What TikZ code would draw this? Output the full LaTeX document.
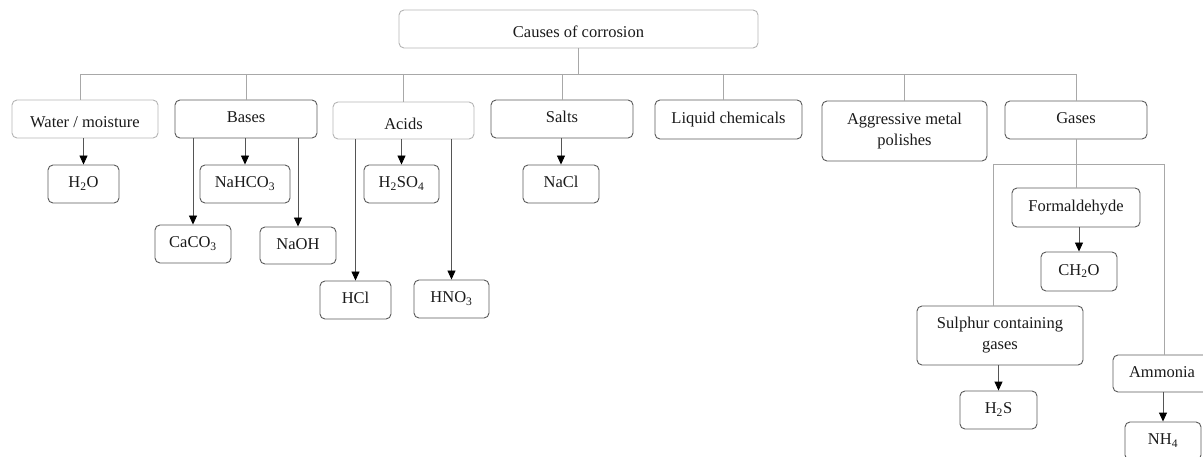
\documentclass[tikz,border=0pt]{standalone}
\usepackage{fontspec}
\setmainfont{Liberation Serif}
\usetikzlibrary{arrows.meta}
\definecolor{darkb}{HTML}{5A5A5A}
\definecolor{lightb}{HTML}{B4B4B4}
\definecolor{busc}{HTML}{A8A8A8}
\definecolor{arrc}{HTML}{555555}
\definecolor{txt}{HTML}{1A1A1A}
\tikzset{
  boxbase/.style={draw=darkb, line width=0.9pt, rounded corners=5pt, inner sep=0pt,
    text=txt, align=center, font=\fontsize{16.5}{21}\selectfont},
  box/.style={boxbase, text height=11pt, text depth=3.5pt},
  lbox/.style={boxbase, draw=lightb, text height=21pt, text depth=3.5pt},
  bus/.style={draw=busc, line width=0.9pt},
  arr/.style={draw=arrc, line width=0.9pt, -{Triangle[length=9pt,width=8pt,color=black]}},
}
\begin{document}
\begin{tikzpicture}[x=1pt,y=-1pt]
\useasboundingbox (0,0) rectangle (1203,457);
% level 0
\node[lbox, minimum width=359, minimum height=38] (causes) at (578.5,29) {Causes of corrosion};
% level 1
\node[lbox, minimum width=146, minimum height=38] (water) at (85,119) {Water / moisture};
\node[box, minimum width=142, minimum height=38] (bases) at (246,119) {Bases};
\node[lbox, minimum width=141, minimum height=37] (acids) at (403.5,120.5) {Acids};
\node[box, minimum width=142, minimum height=38] (salts) at (562,119) {Salts};
\node[box, minimum width=147, minimum height=39] (liquid) at (728.5,119.5) {Liquid chemicals};
\node[boxbase, minimum width=165, minimum height=60] (aggr) at (904.5,131) {Aggressive metal\\polishes};
\node[box, minimum width=142, minimum height=38] (gases) at (1076,120) {Gases};
% level 2
\node[box, minimum width=71, minimum height=38] (h2o) at (83.5,184) {H\textsubscript{2}O};
\node[box, minimum width=90, minimum height=38] (nahco3) at (245,184) {NaHCO\textsubscript{3}};
\node[box, minimum width=76, minimum height=38] (caco3) at (193,244) {CaCO\textsubscript{3}};
\node[box, minimum width=76, minimum height=37] (naoh) at (298,245.5) {NaOH};
\node[box, minimum width=75, minimum height=38] (h2so4) at (401.5,184) {H\textsubscript{2}SO\textsubscript{4}};
\node[box, minimum width=71, minimum height=38] (hcl) at (355.5,300) {HCl};
\node[box, minimum width=75, minimum height=38] (hno3) at (451.5,299) {HNO\textsubscript{3}};
\node[box, minimum width=76, minimum height=38] (nacl) at (561,184) {NaCl};
% gases subtree
\node[box, minimum width=128, minimum height=39] (formal) at (1076,207.5) {Formaldehyde};
\node[box, minimum width=76, minimum height=39] (ch2o) at (1079,271.5) {CH\textsubscript{2}O};
\node[boxbase, minimum width=166, minimum height=59] (sulphur) at (1000,335.5) {Sulphur containing\\gases};
\node[box, minimum width=77, minimum height=38] (h2s) at (998.5,410) {H\textsubscript{2}S};
\node[box, minimum width=98, minimum height=37] (ammonia) at (1162,373.5) {Ammonia};
\node[box, minimum width=76, minimum height=38] (nh4) at (1163,441) {NH\textsubscript{4}};
% main bus
\coordinate (busL) at (80,74);
\coordinate (busR) at (1076,74);
\coordinate (liqdrop) at (723,74);
\draw[bus] (causes.south) -- (causes.south |- busL);
\draw[bus] (busL) -- (busR);
\draw[bus] (busL) -- (busL |- water.north);
\draw[bus] (bases.north |- busL) -- (bases.north);
\draw[bus] (acids.north |- busL) -- (acids.north);
\draw[bus] (salts.north |- busL) -- (salts.north);
\draw[bus] (liqdrop) -- (liqdrop |- liquid.north);
\draw[bus] (aggr.north |- busL) -- (aggr.north);
\draw[bus] (busR) -- (gases.north);
% level 2 arrows
\draw[arr] (water.south -| h2o.north) -- (h2o.north);
\draw[arr] (bases.south -| nahco3.north) -- (nahco3.north);
\draw[arr] (bases.south -| caco3.north) -- (caco3.north);
\draw[arr] (bases.south -| naoh.north) -- (naoh.north);
\draw[arr] (acids.south -| h2so4.north) -- (h2so4.north);
\draw[arr] (acids.south -| hcl.north) -- (hcl.north);
\draw[arr] (acids.south -| hno3.north) -- (hno3.north);
\draw[arr] (salts.south -| nacl.north) -- (nacl.north);
% gases subtree
\coordinate (gbL) at (993,164);
\coordinate (gbR) at (1164,164);
\draw[bus] (gases.south) -- (formal.north);
\draw[bus] (gbL) -- (gbR);
\draw[bus] (gbL) -- (gbL |- sulphur.north);
\draw[bus] (gbR) -- (gbR |- ammonia.north);
\draw[arr] (formal.south -| ch2o.north) -- (ch2o.north);
\draw[arr] (sulphur.south -| h2s.north) -- (h2s.north);
\draw[arr] (ammonia.south -| nh4.north) -- (nh4.north);
\end{tikzpicture}
\end{document}
